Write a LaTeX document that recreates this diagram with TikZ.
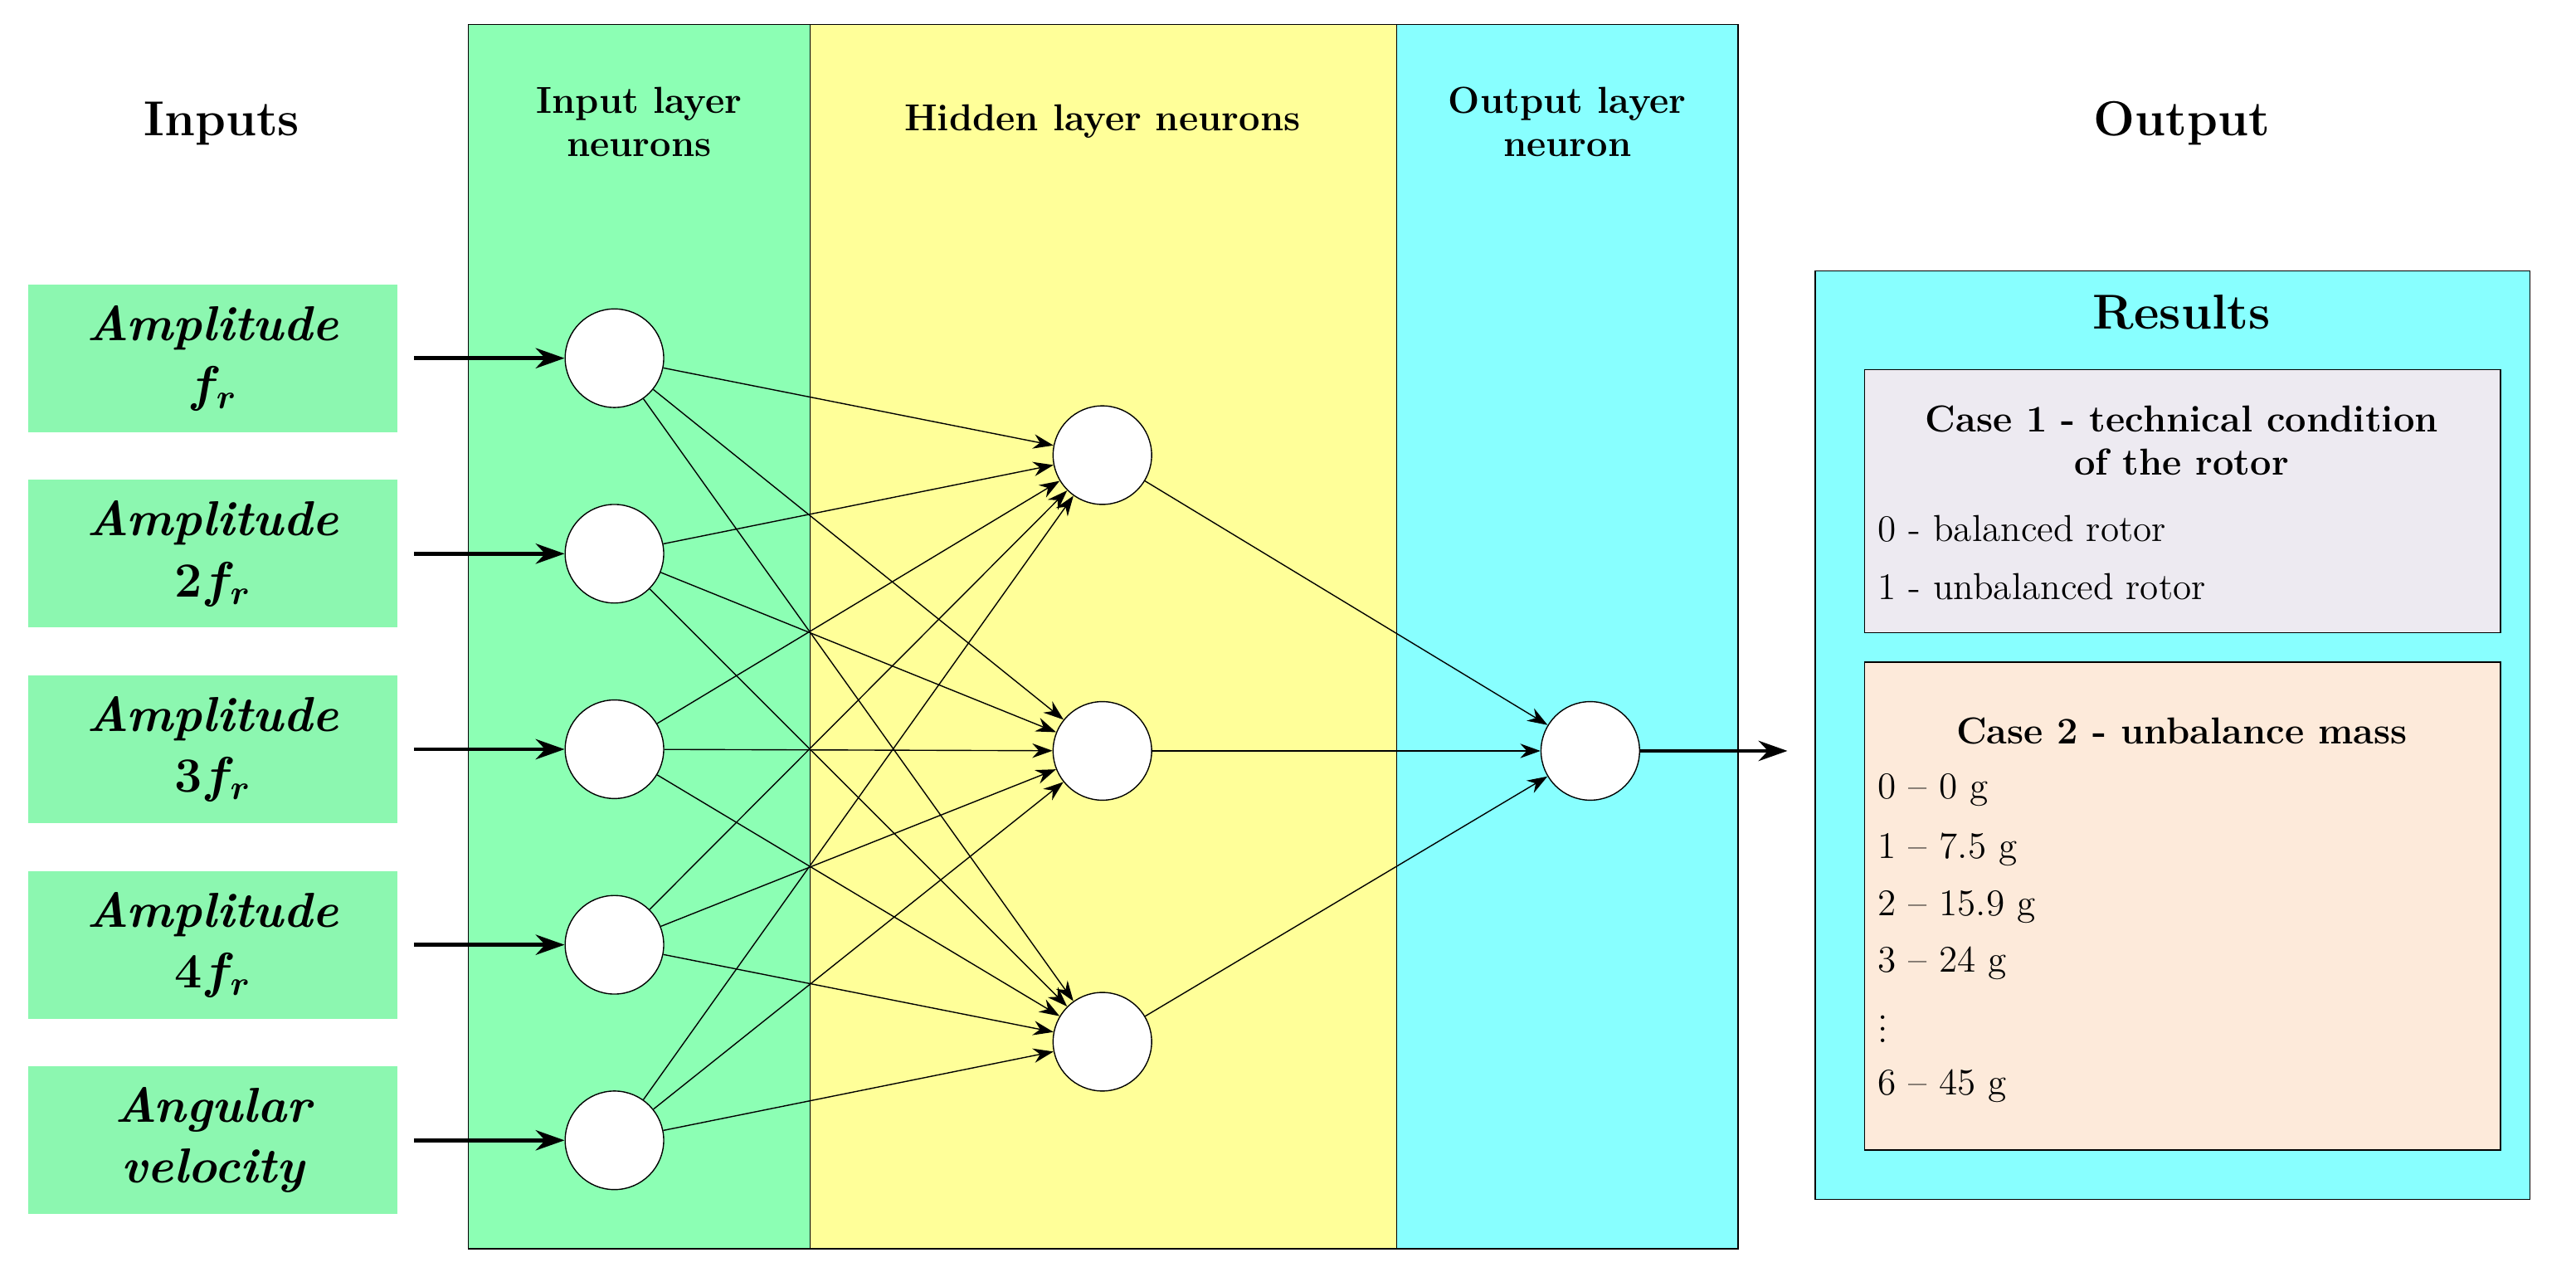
\documentclass[tikz,border=0pt]{standalone}
\usetikzlibrary{arrows.meta}
\usepackage{amsmath}
\begin{document}
\definecolor{pg}{HTML}{8CFFB4}
\definecolor{py}{HTML}{FFFF99}
\definecolor{pc}{HTML}{88FFFF}
\definecolor{bg}{HTML}{8CF7B0}
\definecolor{c1}{HTML}{EDEAF1}
\definecolor{c2}{HTML}{FDEADA}
\begin{tikzpicture}[x=0.02cm,y=-0.02cm,
  neuron/.style={circle,draw,fill=white,minimum size=1.2cm,inner sep=0pt},
  inbox/.style={fill=bg,minimum width=4.5cm,minimum height=1.8cm,align=center,font=\fontsize{17}{21}\selectfont\bfseries\itshape},
  head/.style={align=center,font=\fontsize{13}{15}\selectfont\bfseries},
  big/.style={font=\fontsize{17}{20}\selectfont\bfseries},
  conn/.style={-{Stealth[length=7pt,width=5pt]}},
  thick arr/.style={line width=1.4pt,-{Stealth[length=10pt,width=7pt]}},
  txt/.style={anchor=west,inner ysep=1pt,font=\fontsize{13}{15}\selectfont}]
\useasboundingbox (0,0) rectangle (1568,774);
\draw[fill=pg] (285,15) rectangle (493,760);
\draw[fill=py] (493,15) rectangle (850,760);
\draw[fill=pc] (850,15) rectangle (1058,760);
\node[big] (hin) at (135,75) {Inputs};
\node[big] (hout) at (1328,75) {Output};
\node[head] (h1) at (389,74) {Input layer\\neurons};
\node[head] (h2) at (671,74) {Hidden layer neurons};
\node[head] (h3) at (954,74) {Output layer\\neuron};
\foreach \i/\y/\t in {1/218/{Amplitude\\$\boldsymbol{f_r}$},2/337/{Amplitude\\\textup{2}$\boldsymbol{f_r}$},3/456/{Amplitude\\\textup{3}$\boldsymbol{f_r}$},4/575/{Amplitude\\\textup{4}$\boldsymbol{f_r}$},5/694/{Angular\\velocity}}{
  \node[inbox] (b\i) at (129.5,\y) {\t};
  \coordinate (s\i) at (252,\y);
  \node[neuron] (i\i) at (374,\y) {};
  \draw[thick arr] (s\i) -- (i\i);
}
\node[neuron] (n1) at (671,277) {};
\node[neuron] (n2) at (671,457) {};
\node[neuron] (n3) at (671,634) {};
\node[neuron] (o) at (968,457) {};
\foreach \i in {1,...,5}{\foreach \j in {1,2,3}{\draw[conn] (i\i) -- (n\j);}}
\foreach \j in {1,2,3}{\draw[conn] (n\j) -- (o);}
\coordinate (e) at (1088,457);
\draw[thick arr] (o) -- (e);
\draw[fill=pc] (1105,165) rectangle (1540,730);
\node[big] (res) at (1328,190) {Results};
\draw[fill=c1] (1135,225) rectangle (1522,385);
\node[head] (c1t) at (1328,268) {Case 1 - technical condition\\of the rotor};
\node[txt] (c1a) at (1137,322) {0 - balanced rotor};
\node[txt] (c1b) at (1137,357) {1 - unbalanced rotor};
\draw[fill=c2] (1135,403) rectangle (1522,700);
\node[head] (c2t) at (1328,445) {Case 2 - unbalance mass};
\node[txt] (l0) at (1137,481) {0 -- 0 g};
\node[txt] (l1) at (1137,517) {1 -- 7.5 g};
\node[txt] (l2) at (1137,552) {2 -- 15.9 g};
\node[txt] (l3) at (1137,586) {3 -- 24 g};
\node[txt,inner ysep=0pt] (l4) at (1137,621) {$\vdots$};
\node[txt] (l6) at (1137,661) {6 -- 45 g};
\end{tikzpicture}
\end{document}
